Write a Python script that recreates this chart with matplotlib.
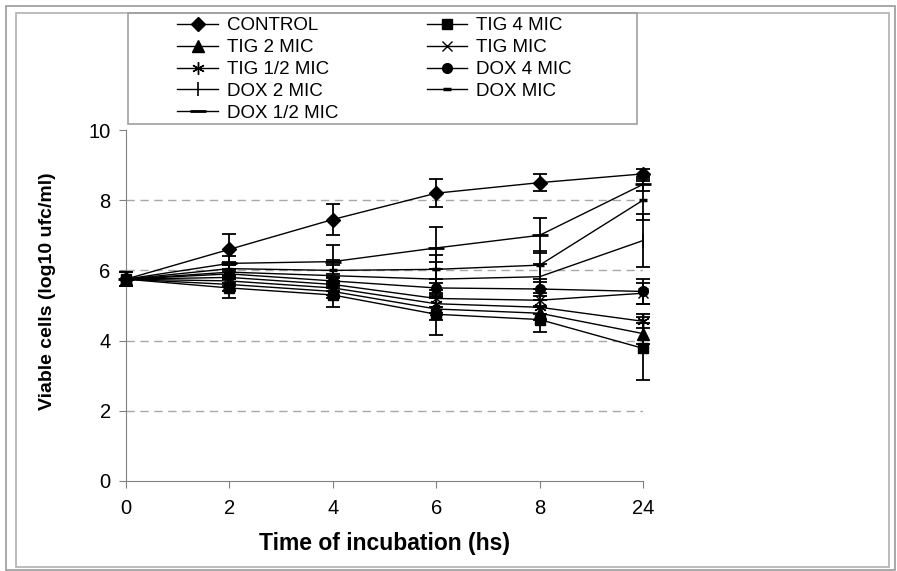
import matplotlib.pyplot as plt
from matplotlib.patches import Rectangle
import numpy as np

plt.rcParams['font.family'] = ['Liberation Sans', 'DejaVu Sans']

# time points (categorical axis)
times = ['0', '2', '4', '6', '8', '24']

# mean log10 ufc/ml per series
control = [5.75, 6.6, 7.45, 8.2, 8.5, 8.75]
tig_4 = [5.75, 5.5, 5.3, 4.75, 4.6, 3.78]
tig_2 = [5.75, 5.6, 5.4, 4.9, 4.78, 4.2]
tig_1 = [5.75, 5.8, 5.6, 5.2, 5.15, 5.35]
tig_half = [5.75, 5.7, 5.5, 5.05, 4.95, 4.55]
dox_4 = [5.75, 5.9, 5.7, 5.5, 5.47, 5.4]
dox_2 = [5.75, 5.95, 5.85, 5.75, 5.82, 6.85]
dox_1 = [5.75, 6.05, 6.0, 6.03, 6.15, 8.0]
dox_half = [5.75, 6.2, 6.25, 6.64, 7.0, 8.45]

# error bars (SD)
control_err = [0.2, 0.45, 0.45, 0.4, 0.25, 0.15]
tig_4_err = [0.2, 0.3, 0.35, 0.6, 0.35, 0.9]
tig_2_err = [0.2, 0.2, 0.2, 0.3, 0.2, 0.3]
tig_1_err = [0.2, 0.15, 0.2, 0.25, 0.2, 0.3]
tig_half_err = [0.2, 0.15, 0.2, 0.25, 0.2, 0.2]
dox_4_err = [0.2, 0.15, 0.2, 0.25, 0.2, 0.35]
dox_2_err = [0.2, 0.2, 0.3, 0.5, 0.35, 0.75]
dox_1_err = [0.2, 0.2, 0.3, 0.4, 0.4, 0.55]
dox_half_err = [0.2, 0.2, 0.47, 0.6, 0.5, 0.2]

series = [
    ('CONTROL', control, control_err, 'D', 7, 1.0),
    ('TIG 4 MIC', tig_4, tig_4_err, 's', 7, 1.0),
    ('TIG 2 MIC', tig_2, tig_2_err, '^', 8, 1.0),
    ('TIG MIC', tig_1, tig_1_err, 'x', 7, 1.0),
    ('TIG 1/2 MIC', tig_half, tig_half_err, (6, 2, 0), 9, 1.0),
    ('DOX 4 MIC', dox_4, dox_4_err, 'o', 7, 1.0),
    ('DOX 2 MIC', dox_2, dox_2_err, '|', 10, 1.2),
    ('DOX MIC', dox_1, dox_1_err, '_', 6, 2.5),
    ('DOX 1/2 MIC', dox_half, dox_half_err, '_', 11, 2.0),
]

fig = plt.figure(figsize=(8.97, 5.71), dpi=100)
W, H = 897, 571

# picture frames
fig.patches.append(Rectangle((6 / W, 1 - 570 / H), 889 / W, 564 / H, transform=fig.transFigure,
                             fill=False, edgecolor='#9a9a9a', lw=1.2))
fig.patches.append(Rectangle((16 / W, 1 - 567 / H), 873 / W, 554 / H, transform=fig.transFigure,
                             fill=False, edgecolor='#b0b0b0', lw=1.2))
# legend box
fig.patches.append(Rectangle((128 / W, 1 - 124 / H), 509 / W, 111 / H, transform=fig.transFigure,
                             fill=False, edgecolor='#a0a0a0', lw=1.2))

ax = fig.add_axes([126 / W, 1 - 481 / H, 517 / W, 351 / H])
x = np.arange(len(times))

handles = []
for label, vals, err, mk, ms, mew in series:
    ax.errorbar(x, vals, yerr=err, fmt='none', ecolor='black', elinewidth=1.3,
                capsize=5, capthick=1.3, zorder=3, clip_on=False)
    h, = ax.plot(x, vals, color='black', lw=1.0, marker=mk, markersize=ms,
                 markeredgewidth=mew, markerfacecolor='black', markeredgecolor='black',
                 label=label, zorder=4, clip_on=False)
    handles.append(h)

for yv in [2, 4, 6, 8]:
    ax.axhline(yv, color='#a8a8a8', lw=1.0, ls=(0, (6, 4)), zorder=1)

ax.set_xlim(0, 5)
ax.set_ylim(0, 10)
ax.set_xticks(x)
ax.set_xticklabels(times)
ax.set_yticks([0, 2, 4, 6, 8, 10])
ax.tick_params(axis='both', direction='out', length=5, width=0.8, color='#808080',
               labelsize=14.5, pad=6)
ax.tick_params(axis='x', pad=8)
for side in ['top', 'right']:
    ax.spines[side].set_visible(False)
for side in ['left', 'bottom']:
    ax.spines[side].set_color('#808080')
    ax.spines[side].set_linewidth(0.8)

ax.set_xlabel('Time of incubation (hs)', fontsize=16.5, fontweight='bold', labelpad=10)
ax.set_ylabel('Viable cells (log10 ufc/ml)', fontsize=14, fontweight='bold')
ax.yaxis.set_label_coords(-0.135, 0.54)

# legend filled row by row, two columns
order = [0, 2, 4, 6, 8, 1, 3, 5, 7]
fig.legend([handles[i] for i in order], [handles[i].get_label() for i in order],
           loc='upper left', bbox_to_anchor=(168 / W, 1 - 8 / H), ncol=2, frameon=False,
           fontsize=13.5, handlelength=2.15, handletextpad=0.5, labelspacing=0.25,
           columnspacing=4.7, borderpad=0)

fig.savefig('out.png', dpi=100)
